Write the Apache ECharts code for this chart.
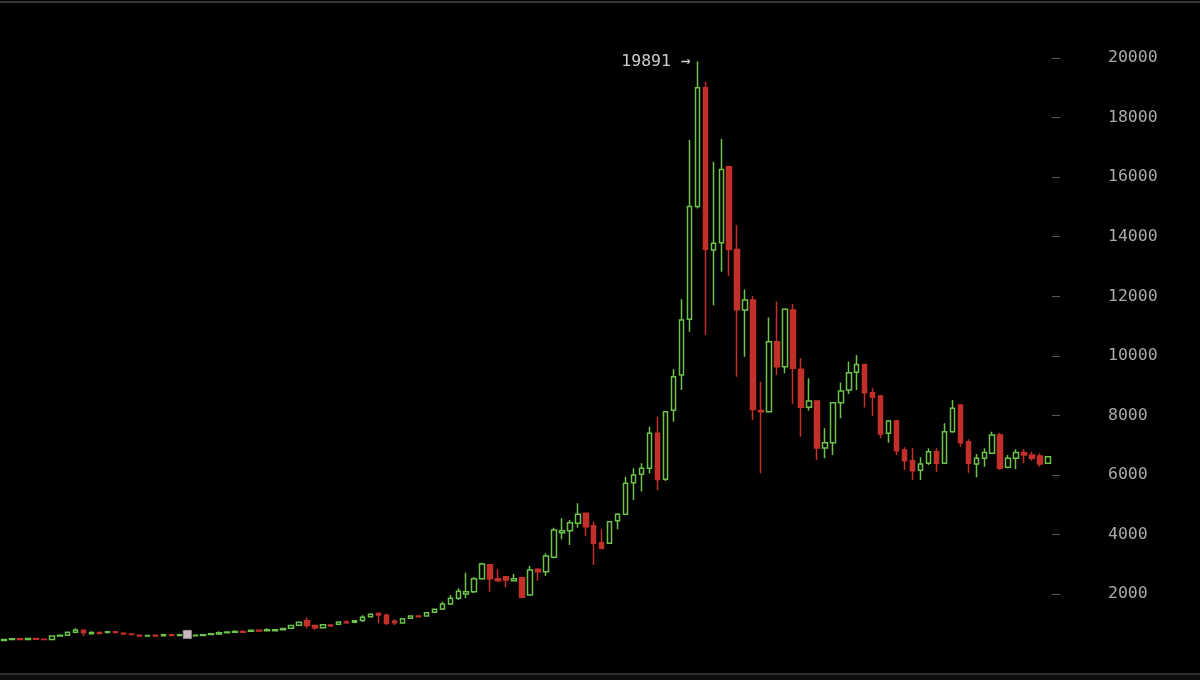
<!DOCTYPE html>
<html>
<head>
<meta charset="utf-8">
<script src="https://cdn.jsdelivr.net/npm/echarts@6/dist/echarts.min.js"></script>
<style>
  html, body { margin: 0; padding: 0; background: #000; }
  #main { width: 1200px; height: 680px; }
</style>
</head>
<body>
<div id="main"></div>
<script>
// weekly candles: [open, close, low, high]
var candles = [
  [440, 475, 435, 480], [470, 500, 465, 505], [500, 475, 470, 505], [475, 505, 470, 510],
  [505, 480, 475, 510], [485, 470, 465, 490], [470, 590, 465, 615], [590, 615, 580, 625],
  [615, 715, 595, 720], [715, 790, 680, 850], [785, 705, 590, 790], [670, 710, 665, 748],
  [710, 675, 670, 745], [710, 735, 705, 740], [735, 705, 700, 740], [680, 655, 650, 685],
  [660, 645, 640, 665], [615, 590, 585, 620], [590, 610, 585, 615], [612, 590, 585, 615],
  [600, 630, 595, 665], [630, 605, 600, 665], [605, 635, 600, 665], [630, 645, 615, 650],
  [600, 620, 590, 625], [605, 635, 590, 640], [640, 670, 630, 680], [655, 700, 645, 748],
  [700, 725, 695, 730], [715, 745, 710, 780], [745, 720, 715, 780], [750, 780, 745, 790],
  [780, 755, 750, 790], [765, 800, 760, 855], [770, 800, 765, 805], [805, 840, 800, 850],
  [850, 945, 845, 950], [955, 1055, 950, 1065], [1100, 940, 850, 1220], [945, 870, 795, 950],
  [870, 970, 860, 990], [960, 930, 925, 965], [985, 1060, 980, 1065], [1060, 1040, 1000, 1130],
  [1050, 1100, 1015, 1110], [1110, 1220, 1060, 1290], [1240, 1320, 1230, 1335], [1350, 1300, 1020, 1385],
  [1290, 1020, 960, 1350], [1090, 1040, 960, 1150], [1030, 1170, 1010, 1180], [1185, 1265, 1180, 1275],
  [1265, 1240, 1230, 1275], [1263, 1375, 1240, 1380], [1385, 1490, 1380, 1495], [1498, 1666, 1464, 1744],
  [1666, 1856, 1632, 1968], [1856, 2091, 1800, 2192], [2001, 2080, 1856, 2718], [2080, 2516, 2024, 2561],
  [2516, 3009, 2494, 3053], [2986, 2516, 2080, 3009], [2516, 2449, 2415, 2830], [2583, 2472, 2225, 2606],
  [2449, 2516, 2440, 2673], [2550, 1889, 1856, 2583], [1968, 2807, 1960, 2942], [2830, 2751, 2449, 2863],
  [2751, 3277, 2606, 3367], [3233, 4150, 3199, 4229], [4061, 4128, 3837, 4542], [4128, 4397, 3647, 4486],
  [4374, 4677, 4229, 5046], [4710, 4262, 3949, 4720], [4296, 3703, 2975, 4430], [3725, 3535, 3500, 4173],
  [3703, 4430, 3690, 4440], [4464, 4677, 4173, 4710], [4677, 5720, 4650, 5940], [5739, 5997, 5158, 6222],
  [6021, 6222, 5440, 6390], [6222, 7400, 6050, 7620], [7400, 5850, 5490, 7950], [5853, 8123, 5800, 8150],
  [8173, 9298, 7787, 9545], [9355, 11200, 8850, 11900], [11230, 15010, 10810, 17250], [15010, 19000, 14950, 19891],
  [19000, 13580, 10700, 19200], [13550, 13780, 11700, 16520], [13800, 16260, 12820, 17280], [16350, 13570, 12680, 16380],
  [13570, 11550, 9300, 14390], [11540, 11870, 9970, 12230], [11870, 8200, 7840, 12010], [8160, 8120, 6055, 9130],
  [8120, 10470, 8100, 11290], [10470, 9630, 9355, 11820], [9630, 11560, 9410, 11590], [11540, 9580, 8380, 11740],
  [9550, 8270, 7280, 9920], [8270, 8480, 8160, 9245], [8480, 6900, 6500, 8500], [6900, 7080, 6560, 7565],
  [7080, 8425, 6670, 8440], [8425, 8820, 7900, 9100], [8850, 9430, 8720, 9810], [9450, 9710, 8850, 10030],
  [9710, 8760, 8260, 9720], [8760, 8610, 7980, 8910], [8650, 7375, 7230, 8685], [7400, 7810, 7080, 7845],
  [7810, 6815, 6670, 7845], [6840, 6480, 6165, 6930], [6480, 6140, 5830, 6895], [6160, 6365, 5830, 6590],
  [6390, 6780, 6330, 6895], [6780, 6390, 6110, 6895], [6390, 7450, 6380, 7735], [7450, 8240, 7420, 8515],
  [8350, 7080, 6950, 8360], [7115, 6390, 6075, 7195], [6365, 6560, 5920, 6700], [6560, 6750, 6275, 6895],
  [6725, 7340, 6720, 7450], [7340, 6220, 6165, 7420], [6255, 6560, 6220, 6670], [6560, 6750, 6190, 6860],
  [6750, 6670, 6390, 6860], [6670, 6560, 6480, 6780], [6635, 6365, 6275, 6725], [6390, 6610, 6380, 6620]
];

// one category per week
var weeks = [];
var start = new Date(2016, 3, 11);
for (var i = 0; i < candles.length; i++) {
  var d = new Date(start.getTime() + i * 7 * 86400000);
  weeks.push(d.getFullYear() + '-' + (d.getMonth() + 1) + '-' + d.getDate());
}

var yTicks = [2000, 4000, 6000, 8000, 10000, 12000, 14000, 16000, 18000, 20000];
var hoverWeek = 23; // the candle shown as selected

var myChart = echarts.init(document.getElementById('main'));

var option = {
  backgroundColor: '#000',
  animation: false,
  grid: { left: -4, right: 148, top: 58, bottom: 26.4 },
  xAxis: {
    type: 'category',
    data: weeks,
    boundaryGap: true,
    show: false
  },
  yAxis: {
    type: 'value',
    position: 'right',
    min: 0,
    max: 20000,
    interval: 2000,
    splitLine: { show: false },
    axisLine: { show: false },
    axisTick: {
      show: true,
      length: 8,
      customValues: yTicks,
      lineStyle: { color: '#555' }
    },
    axisLabel: {
      margin: 56,
      customValues: yTicks,
      color: '#aaa',
      fontFamily: 'DejaVu Sans Mono',
      fontSize: 16.5,
      formatter: function (v) { return String(v); }
    }
  },
  graphic: [
    { type: 'line', shape: { x1: 0, y1: 2, x2: 1200, y2: 2 }, style: { stroke: '#353535', lineWidth: 2 } },
    { type: 'rect', shape: { x: 0, y: 675, width: 1200, height: 5 }, style: { fill: '#0e0e0e' } },
    { type: 'line', shape: { x1: 0, y1: 674, x2: 1200, y2: 674 }, style: { stroke: '#2e2e2e', lineWidth: 2 } }
  ],
  series: [
    {
      type: 'candlestick',
      data: candles,
      barWidth: 5,
      itemStyle: {
        color: '#000',
        color0: '#c3302b',
        borderColor: '#6cc24a',
        borderColor0: '#c3302b',
        borderWidth: 1.5
      },
      markPoint: {
        animation: false,
        data: [
          {
            type: 'max',
            valueDim: 'highest',
            symbol: 'circle',
            symbolSize: 1,
            itemStyle: { color: 'rgba(0,0,0,0)' },
            label: {
              show: true,
              position: 'left',
              distance: 6,
              formatter: '{c} →',
              color: '#ccc',
              fontFamily: 'DejaVu Sans Mono',
              fontSize: 16.5
            }
          },
          {
            coord: [weeks[hoverWeek], candles[hoverWeek][1]],
            symbol: 'rect',
            symbolSize: 8,
            itemStyle: { color: '#cdb6be', borderColor: '#9a9a9a', borderWidth: 1 },
            label: { show: false }
          }
        ]
      }
    }
  ]
};

myChart.setOption(option);
</script>
</body>
</html>
